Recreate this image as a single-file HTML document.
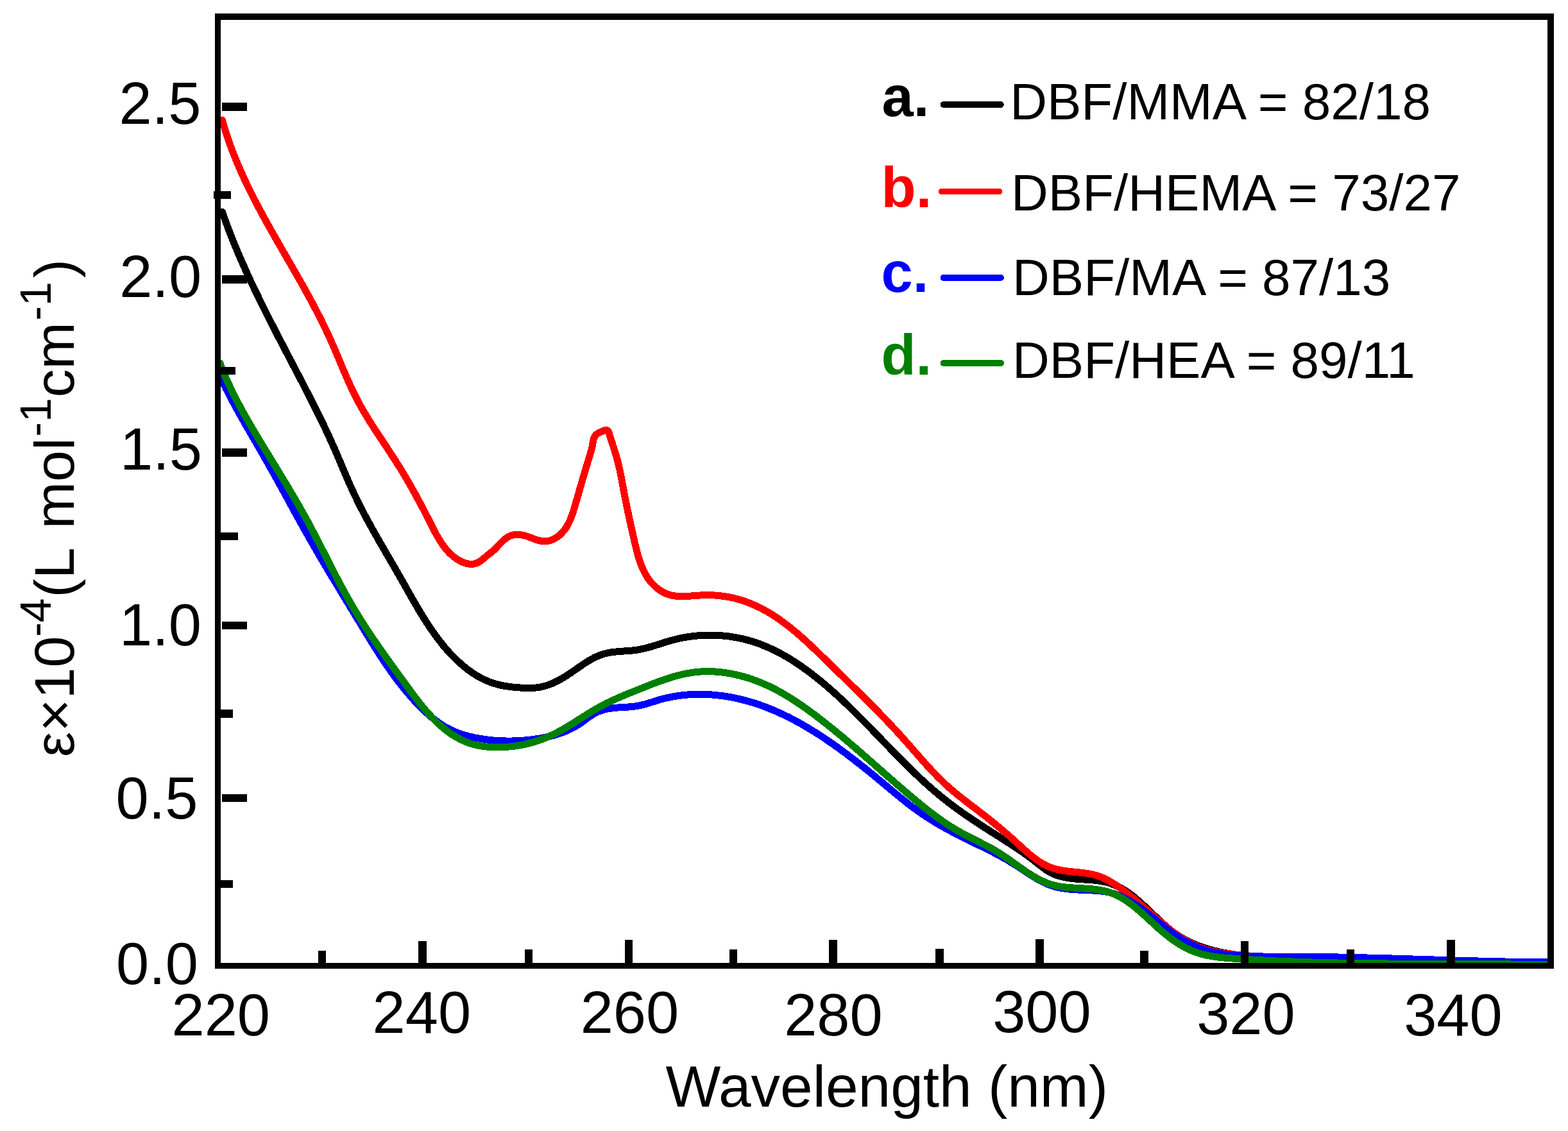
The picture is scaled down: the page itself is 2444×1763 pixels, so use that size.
<!DOCTYPE html><html><head><meta charset="utf-8"><title>UV spectra</title><style>html,body{margin:0;padding:0;background:#fff;overflow:hidden;}svg{display:block;}text{font-family:"Liberation Sans",Arial,sans-serif;}</style></head><body>
<svg width="2444" height="1763" viewBox="0 0 2444 1763">
<rect x="0" y="0" width="2444" height="1763" fill="#fff"/>
<path d="M346.3 330.1 L347.3 332.9 L348.3 335.7 L349.3 338.5 L350.3 341.4 L351.3 344.2 L352.4 347.0 L353.4 349.8 L354.4 352.6 L355.5 355.4 L356.5 358.2 L357.6 361.0 L358.7 363.8 L359.8 366.6 L360.9 369.4 L362.0 372.1 L363.1 374.9 L364.2 377.7 L365.3 380.5 L366.5 383.2 L367.6 386.0 L368.8 388.8 L369.9 391.5 L371.1 394.3 L372.3 397.0 L373.4 399.8 L374.6 402.5 L375.8 405.3 L377.0 408.0 L378.2 410.8 L379.5 413.5 L380.7 416.2 L381.9 419.0 L383.1 421.7 L384.4 424.4 L385.6 427.1 L386.9 429.9 L388.1 432.6 L389.4 435.3 L390.6 438.0 L391.9 440.7 L393.2 443.4 L394.5 446.1 L395.8 448.8 L397.1 451.5 L398.4 454.2 L399.7 456.9 L401.0 459.6 L402.3 462.3 L403.6 465.0 L404.9 467.7 L406.2 470.4 L407.6 473.1 L408.9 475.8 L410.2 478.5 L411.6 481.2 L412.9 483.9 L414.2 486.5 L415.6 489.2 L416.9 491.9 L418.3 494.6 L419.6 497.2 L421.0 499.9 L422.4 502.6 L423.7 505.3 L425.1 507.9 L426.5 510.6 L427.8 513.3 L429.2 515.9 L430.6 518.6 L432.0 521.3 L433.3 523.9 L434.7 526.6 L436.1 529.3 L437.5 531.9 L438.9 534.6 L440.3 537.3 L441.6 539.9 L443.0 542.6 L444.4 545.2 L445.8 547.9 L447.2 550.6 L448.6 553.2 L450.0 555.9 L451.4 558.5 L452.7 561.2 L454.1 563.8 L455.5 566.5 L456.9 569.2 L458.3 571.8 L459.7 574.5 L461.1 577.1 L462.5 579.8 L463.8 582.4 L465.2 585.1 L466.6 587.7 L468.0 590.4 L469.4 593.1 L470.8 595.7 L472.1 598.4 L473.5 601.0 L474.9 603.7 L476.2 606.4 L477.6 609.0 L479.0 611.7 L480.4 614.3 L481.7 617.0 L483.1 619.7 L484.4 622.3 L485.8 625.0 L487.1 627.7 L488.5 630.3 L489.8 633.0 L491.2 635.7 L492.5 638.3 L493.8 641.0 L495.2 643.7 L496.5 646.3 L497.8 649.0 L499.1 651.7 L500.4 654.4 L501.8 657.1 L503.1 659.8 L504.4 662.5 L505.6 665.2 L506.9 667.9 L508.2 670.6 L509.5 673.3 L510.8 676.0 L512.0 678.7 L513.3 681.4 L514.5 684.2 L515.8 686.9 L517.0 689.6 L518.2 692.4 L519.4 695.1 L520.7 697.9 L521.9 700.6 L523.1 703.4 L524.3 706.1 L525.4 708.9 L526.6 711.7 L527.8 714.5 L529.0 717.3 L530.2 720.0 L531.3 722.8 L532.5 725.6 L533.7 728.4 L534.9 731.2 L536.0 733.9 L537.2 736.7 L538.4 739.5 L539.6 742.3 L540.8 745.0 L542.0 747.8 L543.2 750.6 L544.4 753.3 L545.6 756.1 L546.9 758.8 L548.1 761.5 L549.4 764.3 L550.6 767.0 L551.9 769.7 L553.2 772.4 L554.5 775.1 L555.8 777.8 L557.1 780.5 L558.4 783.1 L559.7 785.8 L561.1 788.5 L562.4 791.1 L563.8 793.8 L565.2 796.4 L566.6 799.0 L567.9 801.7 L569.3 804.3 L570.7 806.9 L572.1 809.5 L573.6 812.2 L575.0 814.8 L576.4 817.4 L577.9 820.0 L579.3 822.6 L580.7 825.2 L582.2 827.8 L583.7 830.4 L585.1 832.9 L586.6 835.5 L588.1 838.1 L589.5 840.7 L591.0 843.3 L592.5 845.9 L594.0 848.4 L595.5 851.0 L597.0 853.6 L598.5 856.2 L600.0 858.8 L601.4 861.3 L602.9 863.9 L604.5 866.5 L606.0 869.1 L607.5 871.7 L609.0 874.3 L610.5 876.9 L612.0 879.4 L613.5 882.0 L615.0 884.6 L616.5 887.2 L618.0 889.8 L619.5 892.4 L621.0 895.1 L622.5 897.7 L624.0 900.3 L625.5 902.9 L627.0 905.5 L628.5 908.2 L630.0 910.8 L631.4 913.4 L632.9 916.1 L634.4 918.7 L635.9 921.4 L637.4 924.0 L638.9 926.6 L640.4 929.3 L641.9 931.9 L643.4 934.5 L644.9 937.2 L646.5 939.8 L648.0 942.4 L649.5 945.0 L651.1 947.7 L652.6 950.3 L654.2 952.9 L655.7 955.5 L657.3 958.0 L658.9 960.6 L660.5 963.2 L662.1 965.7 L663.7 968.3 L665.3 970.8 L667.0 973.3 L668.6 975.8 L670.3 978.3 L672.0 980.8 L673.7 983.3 L675.4 985.7 L677.1 988.2 L678.8 990.6 L680.6 993.0 L682.4 995.4 L684.2 997.8 L686.0 1000.1 L687.9 1002.4 L689.7 1004.8 L691.6 1007.1 L693.5 1009.3 L695.4 1011.6 L697.4 1013.8 L699.3 1016.0 L701.3 1018.2 L703.4 1020.3 L705.4 1022.5 L707.5 1024.6 L709.6 1026.7 L711.7 1028.7 L713.8 1030.7 L716.0 1032.7 L718.2 1034.7 L720.5 1036.6 L722.7 1038.6 L725.0 1040.4 L727.3 1042.3 L729.7 1044.1 L732.1 1045.8 L734.5 1047.5 L736.9 1049.2 L739.4 1050.8 L741.9 1052.4 L744.5 1053.9 L747.0 1055.4 L749.6 1056.8 L752.3 1058.2 L754.9 1059.4 L757.7 1060.7 L760.4 1061.9 L763.2 1063.0 L766.0 1064.0 L768.8 1065.0 L771.7 1065.8 L774.6 1066.7 L777.6 1067.4 L780.5 1068.1 L783.5 1068.7 L786.5 1069.3 L789.6 1069.8 L792.6 1070.2 L795.7 1070.6 L798.8 1071.0 L801.9 1071.3 L804.9 1071.6 L808.0 1071.8 L811.1 1072.0 L814.2 1072.1 L817.2 1072.3 L820.3 1072.4 L823.3 1072.4 L826.3 1072.4 L829.3 1072.4 L832.3 1072.2 L835.2 1072.0 L838.1 1071.7 L841.0 1071.2 L843.9 1070.7 L846.7 1070.0 L849.5 1069.3 L852.3 1068.4 L855.0 1067.5 L857.8 1066.5 L860.5 1065.4 L863.1 1064.2 L865.8 1063.0 L868.5 1061.6 L871.1 1060.3 L873.7 1058.8 L876.3 1057.3 L878.9 1055.8 L881.4 1054.2 L884.0 1052.6 L886.5 1050.9 L889.0 1049.3 L891.6 1047.5 L894.1 1045.8 L896.6 1044.1 L899.1 1042.3 L901.6 1040.6 L904.1 1038.9 L906.6 1037.1 L909.1 1035.5 L911.6 1033.8 L914.2 1032.2 L916.7 1030.6 L919.3 1029.1 L921.9 1027.6 L924.5 1026.2 L927.1 1024.8 L929.8 1023.6 L932.5 1022.4 L935.2 1021.3 L938.0 1020.3 L940.7 1019.4 L943.6 1018.7 L946.4 1018.0 L949.3 1017.4 L952.3 1016.9 L955.2 1016.5 L958.2 1016.2 L961.2 1015.9 L964.2 1015.6 L967.2 1015.3 L970.3 1015.1 L973.3 1014.9 L976.4 1014.7 L979.4 1014.5 L982.4 1014.2 L985.5 1014.0 L988.5 1013.6 L991.5 1013.3 L994.5 1012.8 L997.4 1012.3 L1000.4 1011.7 L1003.3 1011.1 L1006.2 1010.4 L1009.1 1009.6 L1012.0 1008.8 L1014.9 1008.0 L1017.7 1007.2 L1020.6 1006.3 L1023.4 1005.4 L1026.3 1004.5 L1029.1 1003.5 L1032.0 1002.6 L1034.8 1001.7 L1037.7 1000.8 L1040.6 1000.0 L1043.4 999.1 L1046.3 998.3 L1049.2 997.5 L1052.1 996.8 L1055.0 996.1 L1058.0 995.4 L1060.9 994.8 L1063.8 994.2 L1066.8 993.7 L1069.7 993.1 L1072.7 992.7 L1075.7 992.2 L1078.7 991.9 L1081.7 991.5 L1084.6 991.2 L1087.6 990.9 L1090.6 990.7 L1093.6 990.5 L1096.6 990.4 L1099.6 990.2 L1102.6 990.2 L1105.6 990.1 L1108.7 990.1 L1111.7 990.2 L1114.7 990.3 L1117.7 990.4 L1120.7 990.5 L1123.7 990.7 L1126.7 991.0 L1129.6 991.3 L1132.6 991.6 L1135.6 991.9 L1138.6 992.3 L1141.5 992.8 L1144.5 993.3 L1147.4 993.8 L1150.4 994.3 L1153.3 994.9 L1156.2 995.6 L1159.1 996.2 L1162.0 997.0 L1164.9 997.7 L1167.8 998.5 L1170.7 999.3 L1173.5 1000.2 L1176.4 1001.1 L1179.2 1002.1 L1182.0 1003.1 L1184.8 1004.1 L1187.6 1005.2 L1190.3 1006.3 L1193.1 1007.4 L1195.8 1008.6 L1198.6 1009.8 L1201.3 1011.0 L1204.0 1012.3 L1206.7 1013.6 L1209.4 1014.9 L1212.0 1016.3 L1214.7 1017.6 L1217.3 1019.1 L1219.9 1020.5 L1222.6 1022.0 L1225.2 1023.5 L1227.7 1025.0 L1230.3 1026.5 L1232.9 1028.1 L1235.4 1029.7 L1238.0 1031.3 L1240.5 1033.0 L1243.0 1034.6 L1245.5 1036.3 L1248.0 1038.0 L1250.5 1039.8 L1252.9 1041.5 L1255.4 1043.3 L1257.8 1045.0 L1260.2 1046.8 L1262.7 1048.6 L1265.1 1050.5 L1267.4 1052.3 L1269.8 1054.2 L1272.2 1056.0 L1274.5 1057.9 L1276.9 1059.8 L1279.2 1061.7 L1281.5 1063.6 L1283.8 1065.5 L1286.1 1067.5 L1288.4 1069.4 L1290.7 1071.4 L1292.9 1073.3 L1295.2 1075.3 L1297.4 1077.3 L1299.7 1079.3 L1301.9 1081.3 L1304.1 1083.3 L1306.3 1085.3 L1308.5 1087.3 L1310.7 1089.4 L1312.9 1091.4 L1315.1 1093.4 L1317.2 1095.5 L1319.4 1097.6 L1321.5 1099.6 L1323.7 1101.7 L1325.8 1103.8 L1328.0 1105.9 L1330.1 1108.0 L1332.2 1110.1 L1334.3 1112.2 L1336.5 1114.3 L1338.6 1116.4 L1340.7 1118.5 L1342.8 1120.6 L1344.9 1122.7 L1347.0 1124.9 L1349.1 1127.0 L1351.1 1129.1 L1353.2 1131.3 L1355.3 1133.4 L1357.4 1135.6 L1359.5 1137.7 L1361.6 1139.9 L1363.6 1142.0 L1365.7 1144.2 L1367.8 1146.3 L1369.9 1148.5 L1372.0 1150.6 L1374.0 1152.8 L1376.1 1154.9 L1378.2 1157.1 L1380.3 1159.3 L1382.4 1161.4 L1384.5 1163.6 L1386.5 1165.7 L1388.6 1167.9 L1390.7 1170.0 L1392.8 1172.2 L1394.9 1174.3 L1397.0 1176.5 L1399.1 1178.6 L1401.2 1180.8 L1403.3 1182.9 L1405.5 1185.1 L1407.6 1187.2 L1409.7 1189.3 L1411.8 1191.5 L1414.0 1193.6 L1416.1 1195.7 L1418.3 1197.8 L1420.4 1199.9 L1422.6 1202.0 L1424.8 1204.1 L1426.9 1206.2 L1429.1 1208.3 L1431.3 1210.4 L1433.5 1212.4 L1435.7 1214.5 L1437.9 1216.5 L1440.1 1218.6 L1442.3 1220.6 L1444.5 1222.6 L1446.8 1224.6 L1449.0 1226.6 L1451.3 1228.6 L1453.5 1230.6 L1455.8 1232.5 L1458.1 1234.5 L1460.4 1236.4 L1462.7 1238.3 L1465.0 1240.2 L1467.3 1242.1 L1469.6 1244.0 L1471.9 1245.9 L1474.3 1247.7 L1476.6 1249.5 L1479.0 1251.4 L1481.4 1253.2 L1483.7 1255.0 L1486.1 1256.7 L1488.5 1258.5 L1490.9 1260.3 L1493.3 1262.0 L1495.8 1263.8 L1498.2 1265.5 L1500.6 1267.2 L1503.1 1268.9 L1505.5 1270.6 L1508.0 1272.3 L1510.4 1274.0 L1512.9 1275.6 L1515.4 1277.3 L1517.8 1279.0 L1520.3 1280.6 L1522.8 1282.3 L1525.3 1283.9 L1527.8 1285.5 L1530.3 1287.2 L1532.8 1288.8 L1535.3 1290.4 L1537.9 1292.0 L1540.4 1293.7 L1542.9 1295.3 L1545.4 1296.9 L1547.9 1298.5 L1550.5 1300.1 L1553.0 1301.7 L1555.6 1303.3 L1558.1 1304.9 L1560.6 1306.6 L1563.2 1308.2 L1565.7 1309.8 L1568.3 1311.4 L1570.8 1313.1 L1573.3 1314.7 L1575.9 1316.3 L1578.4 1318.0 L1580.9 1319.6 L1583.4 1321.3 L1585.9 1323.0 L1588.4 1324.7 L1590.9 1326.4 L1593.4 1328.1 L1595.8 1329.8 L1598.3 1331.6 L1600.7 1333.3 L1603.2 1335.1 L1605.6 1336.9 L1608.0 1338.7 L1610.4 1340.5 L1612.7 1342.4 L1615.1 1344.3 L1617.4 1346.1 L1619.8 1348.0 L1622.1 1349.8 L1624.5 1351.6 L1626.9 1353.4 L1629.2 1355.1 L1631.7 1356.7 L1634.1 1358.2 L1636.6 1359.7 L1639.2 1361.1 L1641.8 1362.3 L1644.4 1363.4 L1647.1 1364.4 L1649.9 1365.3 L1652.7 1366.1 L1655.5 1366.8 L1658.4 1367.5 L1661.3 1368.0 L1664.2 1368.5 L1667.2 1369.0 L1670.2 1369.3 L1673.2 1369.7 L1676.2 1370.0 L1679.3 1370.2 L1682.3 1370.4 L1685.4 1370.7 L1688.4 1370.9 L1691.5 1371.1 L1694.6 1371.3 L1697.6 1371.5 L1700.7 1371.8 L1703.8 1372.0 L1706.8 1372.3 L1709.8 1372.7 L1712.8 1373.1 L1715.8 1373.5 L1718.7 1374.0 L1721.6 1374.6 L1724.5 1375.3 L1727.3 1376.0 L1730.1 1376.8 L1732.9 1377.8 L1735.6 1378.8 L1738.3 1379.9 L1740.9 1381.1 L1743.5 1382.4 L1746.1 1383.7 L1748.6 1385.1 L1751.2 1386.6 L1753.6 1388.1 L1756.1 1389.7 L1758.5 1391.4 L1761.0 1393.1 L1763.3 1394.9 L1765.7 1396.7 L1768.1 1398.6 L1770.4 1400.5 L1772.7 1402.5 L1775.0 1404.4 L1777.3 1406.5 L1779.6 1408.5 L1781.8 1410.6 L1784.1 1412.6 L1786.3 1414.8 L1788.6 1416.9 L1790.8 1419.0 L1793.0 1421.1 L1795.3 1423.3 L1797.5 1425.4 L1799.8 1427.6 L1802.0 1429.7 L1804.2 1431.8 L1806.5 1433.9 L1808.8 1436.0 L1811.0 1438.1 L1813.3 1440.2 L1815.6 1442.2 L1817.9 1444.2 L1820.3 1446.2 L1822.6 1448.1 L1825.0 1450.0 L1827.3 1451.8 L1829.7 1453.6 L1832.2 1455.4 L1834.6 1457.1 L1837.1 1458.7 L1839.6 1460.3 L1842.1 1461.9 L1844.7 1463.3 L1847.3 1464.8 L1849.9 1466.1 L1852.5 1467.5 L1855.1 1468.8 L1857.8 1470.0 L1860.5 1471.2 L1863.2 1472.3 L1865.9 1473.5 L1868.6 1474.5 L1871.4 1475.5 L1874.2 1476.5 L1877.0 1477.4 L1879.8 1478.3 L1882.6 1479.2 L1885.4 1480.0 L1888.3 1480.8 L1891.1 1481.6 L1894.0 1482.3 L1896.9 1483.0 L1899.8 1483.6 L1902.7 1484.2 L1905.6 1484.8 L1908.6 1485.4 L1911.5 1485.9 L1914.5 1486.4 L1917.4 1486.9 L1920.4 1487.4 L1923.4 1487.8 L1926.4 1488.2 L1929.4 1488.6 L1932.3 1489.0 L1935.3 1489.3 L1938.3 1489.6 L1941.4 1489.9 L1944.4 1490.2 L1947.4 1490.5 L1950.4 1490.7 L1953.4 1491.0 L1956.4 1491.2 L1959.4 1491.4 L1962.4 1491.6 L1965.4 1491.8 L1968.5 1492.0 L1971.5 1492.2 L1974.5 1492.4 L1977.5 1492.5 L1980.5 1492.6 L1983.5 1492.8 L1986.5 1492.9 L1989.5 1493.0 L1992.5 1493.1 L1995.5 1493.2 L1998.5 1493.3 L2001.5 1493.4 L2004.5 1493.5 L2007.5 1493.6 L2010.5 1493.6 L2013.5 1493.7 L2016.5 1493.7 L2019.5 1493.8 L2022.5 1493.8 L2025.5 1493.8 L2028.5 1493.9 L2031.5 1493.9 L2034.5 1493.9 L2037.5 1493.9 L2040.5 1493.9 L2043.5 1493.9 L2046.5 1493.9 L2049.5 1493.9 L2052.5 1493.9 L2055.5 1493.9 L2058.5 1493.9 L2061.5 1493.9 L2064.5 1493.9 L2067.4 1493.9 L2070.4 1493.9 L2073.4 1493.8 L2076.4 1493.8 L2079.4 1493.8 L2082.4 1493.8 L2085.4 1493.8 L2088.4 1493.8 L2091.4 1493.7 L2094.4 1493.7 L2097.4 1493.7 L2100.4 1493.7 L2103.3 1493.7 L2106.3 1493.7 L2109.3 1493.7 L2112.3 1493.7 L2115.3 1493.7 L2118.3 1493.7 L2121.3 1493.7 L2124.3 1493.7 L2127.3 1493.7 L2130.3 1493.7 L2133.3 1493.7 L2136.3 1493.7 L2139.2 1493.8 L2142.2 1493.8 L2145.2 1493.9 L2148.2 1493.9 L2151.2 1494.0 L2154.2 1494.0 L2157.2 1494.1 L2160.2 1494.2 L2163.2 1494.2 L2166.2 1494.3 L2169.2 1494.4 L2172.2 1494.5 L2175.2 1494.6 L2178.2 1494.7 L2181.2 1494.8 L2184.2 1494.9 L2187.2 1495.0 L2190.2 1495.1 L2193.2 1495.3 L2196.2 1495.4 L2199.2 1495.5 L2202.2 1495.7 L2205.2 1495.8 L2208.2 1495.9 L2211.2 1496.1 L2214.2 1496.2 L2217.1 1496.4 L2220.1 1496.5 L2223.1 1496.7 L2226.1 1496.8 L2229.1 1497.0 L2232.1 1497.1 L2235.1 1497.3 L2238.1 1497.4 L2241.1 1497.6 L2244.1 1497.7 L2247.1 1497.9 L2250.1 1498.0 L2253.1 1498.2 L2256.1 1498.3 L2259.1 1498.5 L2262.1 1498.6 L2265.1 1498.8 L2268.1 1498.9 L2271.1 1499.1 L2274.1 1499.2 L2277.1 1499.4 L2280.1 1499.5 L2283.1 1499.7 L2286.1 1499.8 L2289.1 1499.9 L2292.1 1500.1 L2295.1 1500.2 L2298.1 1500.3 L2301.1 1500.4 L2304.1 1500.6 L2307.1 1500.7 L2310.1 1500.8 L2313.1 1500.9 L2316.1 1501.0 L2319.1 1501.1 L2322.1 1501.2 L2325.1 1501.3 L2328.1 1501.3 L2331.1 1501.4 L2334.1 1501.5 L2337.1 1501.5 L2340.1 1501.6 L2343.1 1501.7 L2346.1 1501.7 L2349.1 1501.7 L2352.1 1501.8 L2355.1 1501.8 L2358.1 1501.8 L2361.1 1501.8 L2364.1 1501.8 L2367.1 1501.8 L2370.1 1501.8 L2373.1 1501.8 L2376.1 1501.8 L2379.1 1501.7 L2382.1 1501.7 L2385.1 1501.6 L2388.1 1501.5 L2391.1 1501.5 L2394.0 1501.4 L2397.0 1501.3 L2400.0 1501.2 L2403.0 1501.1 L2406.0 1500.9 L2409.0 1500.8 L2412.0 1500.7 L2415.0 1500.5" fill="none" stroke="#000" stroke-width="11.0" stroke-linejoin="round" stroke-linecap="round" shape-rendering="crispEdges"/>
<path d="M346.4 187.0 L347.2 189.9 L348.0 192.8 L348.8 195.7 L349.7 198.6 L350.6 201.5 L351.5 204.4 L352.4 207.3 L353.3 210.1 L354.2 213.0 L355.2 215.8 L356.2 218.6 L357.2 221.5 L358.2 224.3 L359.2 227.1 L360.2 229.9 L361.2 232.7 L362.3 235.5 L363.4 238.3 L364.5 241.1 L365.6 243.9 L366.7 246.6 L367.8 249.4 L369.0 252.2 L370.1 254.9 L371.3 257.7 L372.5 260.4 L373.7 263.2 L374.9 265.9 L376.1 268.6 L377.3 271.3 L378.5 274.1 L379.8 276.8 L381.0 279.5 L382.3 282.2 L383.6 284.9 L384.9 287.6 L386.2 290.3 L387.5 293.0 L388.8 295.6 L390.1 298.3 L391.5 301.0 L392.8 303.7 L394.2 306.3 L395.5 309.0 L396.9 311.7 L398.3 314.3 L399.6 317.0 L401.0 319.6 L402.4 322.3 L403.8 324.9 L405.3 327.5 L406.7 330.2 L408.1 332.8 L409.5 335.4 L411.0 338.1 L412.4 340.7 L413.8 343.3 L415.3 346.0 L416.7 348.6 L418.2 351.2 L419.7 353.8 L421.1 356.4 L422.6 359.0 L424.1 361.7 L425.6 364.3 L427.1 366.9 L428.5 369.5 L430.0 372.1 L431.5 374.7 L433.0 377.3 L434.5 379.9 L436.0 382.5 L437.5 385.1 L439.0 387.7 L440.5 390.3 L442.0 392.9 L443.5 395.5 L445.0 398.1 L446.5 400.7 L448.0 403.3 L449.5 405.9 L451.0 408.5 L452.5 411.1 L454.0 413.7 L455.5 416.4 L457.0 419.0 L458.5 421.6 L460.0 424.2 L461.5 426.8 L463.0 429.4 L464.5 432.0 L465.9 434.6 L467.4 437.2 L468.9 439.8 L470.4 442.5 L471.9 445.1 L473.3 447.7 L474.8 450.3 L476.2 452.9 L477.7 455.6 L479.1 458.2 L480.6 460.8 L482.0 463.5 L483.5 466.1 L484.9 468.7 L486.3 471.4 L487.7 474.0 L489.1 476.7 L490.5 479.3 L491.9 482.0 L493.3 484.6 L494.7 487.3 L496.1 490.0 L497.4 492.6 L498.8 495.3 L500.1 498.0 L501.5 500.7 L502.8 503.4 L504.1 506.1 L505.4 508.7 L506.8 511.4 L508.0 514.1 L509.3 516.9 L510.6 519.6 L511.9 522.3 L513.1 525.0 L514.4 527.7 L515.6 530.5 L516.8 533.2 L518.0 535.9 L519.2 538.7 L520.4 541.4 L521.6 544.2 L522.8 547.0 L524.0 549.7 L525.1 552.5 L526.3 555.2 L527.5 558.0 L528.6 560.8 L529.8 563.5 L530.9 566.3 L532.1 569.1 L533.3 571.8 L534.4 574.6 L535.6 577.4 L536.8 580.1 L538.0 582.9 L539.1 585.6 L540.3 588.4 L541.5 591.1 L542.8 593.9 L544.0 596.6 L545.2 599.3 L546.5 602.0 L547.7 604.8 L549.0 607.5 L550.3 610.2 L551.6 612.9 L552.9 615.5 L554.3 618.2 L555.6 620.9 L557.0 623.5 L558.4 626.2 L559.8 628.8 L561.3 631.5 L562.8 634.1 L564.2 636.7 L565.7 639.3 L567.2 641.9 L568.8 644.5 L570.3 647.1 L571.9 649.6 L573.5 652.2 L575.0 654.8 L576.6 657.3 L578.2 659.9 L579.8 662.4 L581.5 664.9 L583.1 667.5 L584.7 670.0 L586.4 672.5 L588.0 675.0 L589.7 677.6 L591.3 680.1 L593.0 682.6 L594.7 685.1 L596.3 687.6 L598.0 690.1 L599.7 692.6 L601.3 695.1 L603.0 697.6 L604.6 700.1 L606.3 702.7 L608.0 705.2 L609.6 707.7 L611.2 710.2 L612.9 712.7 L614.5 715.2 L616.1 717.7 L617.7 720.2 L619.3 722.8 L620.9 725.3 L622.5 727.8 L624.0 730.3 L625.6 732.9 L627.1 735.4 L628.6 738.0 L630.2 740.5 L631.7 743.1 L633.2 745.6 L634.7 748.2 L636.2 750.8 L637.7 753.3 L639.2 755.9 L640.6 758.5 L642.1 761.1 L643.5 763.7 L645.0 766.3 L646.4 768.9 L647.9 771.5 L649.3 774.1 L650.7 776.7 L652.1 779.3 L653.6 782.0 L655.0 784.6 L656.4 787.3 L657.8 789.9 L659.2 792.6 L660.6 795.2 L662.0 797.9 L663.4 800.6 L664.7 803.3 L666.1 806.0 L667.5 808.7 L668.9 811.4 L670.3 814.1 L671.6 816.9 L673.0 819.6 L674.4 822.3 L675.8 825.0 L677.2 827.7 L678.6 830.4 L680.1 833.1 L681.6 835.8 L683.1 838.4 L684.7 841.0 L686.2 843.6 L687.9 846.1 L689.6 848.5 L691.3 851.0 L693.1 853.3 L694.9 855.6 L696.9 857.9 L698.9 860.1 L700.9 862.2 L703.0 864.2 L705.3 866.2 L707.5 868.1 L709.9 869.9 L712.4 871.5 L715.0 873.1 L717.6 874.6 L720.4 876.0 L723.2 877.1 L726.1 878.1 L729.0 878.8 L731.9 879.2 L734.8 879.4 L737.7 879.1 L740.6 878.6 L743.5 877.6 L746.3 876.1 L749.1 874.3 L751.8 872.3 L754.4 870.1 L756.9 868.0 L759.3 866.0 L761.6 864.2 L763.8 862.5 L765.9 860.8 L768.0 859.0 L770.1 857.2 L772.2 855.1 L774.4 852.9 L776.5 850.6 L778.7 848.3 L781.0 846.0 L783.3 843.7 L785.6 841.6 L788.0 839.6 L790.5 837.8 L793.1 836.3 L795.7 835.1 L798.4 834.3 L801.2 833.7 L804.1 833.3 L806.9 833.3 L809.9 833.4 L812.8 833.8 L815.7 834.4 L818.7 835.1 L821.6 836.0 L824.5 837.0 L827.4 838.1 L830.3 839.2 L833.2 840.3 L836.1 841.3 L839.0 842.3 L841.8 843.0 L844.7 843.6 L847.6 843.9 L850.5 843.9 L853.3 843.5 L856.2 842.9 L859.0 842.0 L861.7 840.9 L864.4 839.5 L867.0 837.9 L869.6 836.2 L872.0 834.3 L874.2 832.2 L876.3 830.1 L878.3 827.8 L880.2 825.5 L881.9 823.1 L883.5 820.6 L885.0 818.0 L886.4 815.3 L887.7 812.7 L888.9 809.9 L890.0 807.1 L891.1 804.3 L892.1 801.4 L893.1 798.5 L894.0 795.6 L894.9 792.7 L895.8 789.8 L896.6 786.9 L897.5 784.0 L898.3 781.1 L899.2 778.2 L900.0 775.3 L900.8 772.4 L901.7 769.6 L902.5 766.7 L903.3 763.8 L904.1 761.0 L905.0 758.1 L905.8 755.3 L906.6 752.4 L907.4 749.6 L908.3 746.7 L909.1 743.9 L909.9 741.0 L910.8 738.2 L911.6 735.3 L912.5 732.4 L913.3 729.6 L914.2 726.7 L915.1 723.8 L915.9 720.9 L916.8 718.0 L917.7 715.1 L918.6 712.2 L919.5 709.2 L920.4 706.3 L921.3 703.3 L922.1 700.3 L922.8 697.3 L923.4 694.3 L923.9 691.2 L924.4 688.2 L925.0 685.2 L925.9 682.5 L927.1 680.0 L928.7 677.8 L930.9 676.1 L933.6 674.6 L936.6 673.3 L939.7 671.9 L942.8 670.8 L945.4 670.4 L947.4 671.4 L948.8 673.7 L949.8 676.7 L950.7 679.8 L951.7 682.9 L952.6 685.9 L953.6 688.8 L954.5 691.7 L955.4 694.6 L956.4 697.5 L957.3 700.3 L958.2 703.1 L959.1 706.0 L959.9 708.8 L960.8 711.6 L961.6 714.4 L962.3 717.3 L963.1 720.2 L963.8 723.1 L964.5 726.0 L965.1 728.9 L965.8 731.8 L966.4 734.8 L967.0 737.7 L967.6 740.7 L968.2 743.7 L968.8 746.6 L969.3 749.6 L969.9 752.6 L970.4 755.5 L971.0 758.5 L971.5 761.5 L972.1 764.4 L972.6 767.4 L973.2 770.3 L973.7 773.3 L974.3 776.2 L974.9 779.1 L975.5 782.0 L976.1 785.0 L976.6 787.9 L977.2 790.8 L977.8 793.7 L978.5 796.6 L979.1 799.5 L979.7 802.4 L980.3 805.2 L980.9 808.1 L981.6 811.0 L982.2 813.9 L982.9 816.8 L983.5 819.8 L984.2 822.7 L984.8 825.6 L985.5 828.5 L986.1 831.4 L986.8 834.4 L987.5 837.3 L988.1 840.3 L988.8 843.2 L989.5 846.2 L990.2 849.2 L990.9 852.2 L991.6 855.2 L992.4 858.1 L993.1 861.1 L993.9 864.1 L994.8 867.0 L995.7 869.9 L996.6 872.8 L997.5 875.7 L998.6 878.5 L999.6 881.4 L1000.8 884.1 L1002.0 886.9 L1003.2 889.6 L1004.6 892.2 L1006.0 894.9 L1007.5 897.4 L1009.0 899.9 L1010.7 902.4 L1012.4 904.7 L1014.3 907.1 L1016.2 909.3 L1018.3 911.5 L1020.4 913.6 L1022.7 915.6 L1025.0 917.5 L1027.5 919.3 L1030.0 921.0 L1032.5 922.5 L1035.2 923.9 L1037.9 925.2 L1040.6 926.3 L1043.3 927.2 L1046.1 927.9 L1049.0 928.5 L1051.8 928.9 L1054.7 929.3 L1057.6 929.5 L1060.6 929.6 L1063.6 929.6 L1066.5 929.6 L1069.5 929.4 L1072.6 929.3 L1075.6 929.1 L1078.7 928.9 L1081.7 928.6 L1084.8 928.4 L1087.9 928.2 L1090.9 928.0 L1094.0 927.8 L1097.1 927.7 L1100.2 927.6 L1103.3 927.6 L1106.4 927.7 L1109.4 927.8 L1112.5 927.9 L1115.6 928.1 L1118.6 928.4 L1121.7 928.7 L1124.7 929.0 L1127.7 929.4 L1130.7 929.9 L1133.7 930.4 L1136.7 930.9 L1139.7 931.5 L1142.6 932.1 L1145.6 932.8 L1148.5 933.6 L1151.4 934.4 L1154.2 935.2 L1157.1 936.1 L1159.9 937.0 L1162.7 938.0 L1165.5 939.0 L1168.2 940.1 L1171.0 941.2 L1173.7 942.3 L1176.4 943.5 L1179.1 944.7 L1181.7 946.0 L1184.4 947.3 L1187.0 948.6 L1189.6 950.0 L1192.2 951.4 L1194.7 952.8 L1197.3 954.3 L1199.8 955.8 L1202.3 957.3 L1204.8 958.9 L1207.3 960.5 L1209.8 962.1 L1212.2 963.8 L1214.7 965.5 L1217.1 967.2 L1219.5 968.9 L1221.9 970.7 L1224.3 972.5 L1226.7 974.3 L1229.0 976.1 L1231.4 978.0 L1233.7 979.9 L1236.0 981.8 L1238.4 983.7 L1240.7 985.6 L1243.0 987.6 L1245.2 989.5 L1247.5 991.5 L1249.8 993.5 L1252.0 995.5 L1254.3 997.6 L1256.5 999.6 L1258.8 1001.7 L1261.0 1003.7 L1263.2 1005.8 L1265.4 1007.9 L1267.6 1010.0 L1269.8 1012.0 L1272.0 1014.1 L1274.2 1016.3 L1276.4 1018.4 L1278.6 1020.5 L1280.7 1022.6 L1282.9 1024.7 L1285.1 1026.8 L1287.3 1029.0 L1289.4 1031.1 L1291.6 1033.2 L1293.7 1035.3 L1295.9 1037.4 L1298.1 1039.5 L1300.2 1041.7 L1302.4 1043.8 L1304.5 1045.9 L1306.7 1048.0 L1308.8 1050.1 L1311.0 1052.2 L1313.1 1054.3 L1315.3 1056.3 L1317.4 1058.4 L1319.6 1060.5 L1321.7 1062.6 L1323.8 1064.7 L1326.0 1066.8 L1328.1 1068.9 L1330.2 1071.0 L1332.4 1073.1 L1334.5 1075.2 L1336.6 1077.2 L1338.8 1079.3 L1340.9 1081.4 L1343.0 1083.5 L1345.1 1085.6 L1347.2 1087.7 L1349.3 1089.8 L1351.4 1091.9 L1353.5 1094.0 L1355.6 1096.1 L1357.7 1098.2 L1359.8 1100.3 L1361.9 1102.5 L1364.0 1104.6 L1366.1 1106.7 L1368.2 1108.8 L1370.2 1110.9 L1372.3 1113.1 L1374.4 1115.2 L1376.4 1117.4 L1378.5 1119.5 L1380.6 1121.6 L1382.6 1123.8 L1384.7 1126.0 L1386.7 1128.1 L1388.8 1130.3 L1390.8 1132.5 L1392.8 1134.7 L1394.9 1136.9 L1396.9 1139.0 L1398.9 1141.3 L1400.9 1143.5 L1402.9 1145.7 L1404.9 1147.9 L1406.9 1150.1 L1408.9 1152.4 L1410.9 1154.6 L1412.9 1156.9 L1414.9 1159.1 L1416.9 1161.4 L1418.9 1163.7 L1420.9 1165.9 L1422.8 1168.2 L1424.8 1170.5 L1426.8 1172.7 L1428.8 1175.0 L1430.8 1177.3 L1432.8 1179.6 L1434.8 1181.8 L1436.8 1184.1 L1438.8 1186.3 L1440.8 1188.6 L1442.8 1190.8 L1444.8 1193.1 L1446.9 1195.3 L1448.9 1197.5 L1450.9 1199.7 L1453.0 1201.9 L1455.1 1204.1 L1457.1 1206.3 L1459.2 1208.4 L1461.3 1210.6 L1463.4 1212.7 L1465.6 1214.8 L1467.7 1216.9 L1469.9 1219.0 L1472.1 1221.0 L1474.2 1223.1 L1476.4 1225.1 L1478.7 1227.1 L1480.9 1229.1 L1483.2 1231.0 L1485.4 1233.0 L1487.7 1234.9 L1490.0 1236.8 L1492.3 1238.7 L1494.6 1240.6 L1497.0 1242.4 L1499.3 1244.3 L1501.7 1246.1 L1504.0 1248.0 L1506.4 1249.8 L1508.7 1251.6 L1511.1 1253.4 L1513.5 1255.2 L1515.8 1257.0 L1518.2 1258.8 L1520.6 1260.6 L1522.9 1262.4 L1525.3 1264.2 L1527.7 1266.1 L1530.0 1267.9 L1532.4 1269.7 L1534.7 1271.5 L1537.1 1273.3 L1539.4 1275.1 L1541.7 1277.0 L1544.0 1278.8 L1546.3 1280.7 L1548.6 1282.6 L1551.0 1284.4 L1553.2 1286.3 L1555.5 1288.2 L1557.8 1290.1 L1560.1 1292.0 L1562.4 1294.0 L1564.7 1295.9 L1566.9 1297.8 L1569.2 1299.8 L1571.5 1301.8 L1573.7 1303.8 L1576.0 1305.8 L1578.2 1307.8 L1580.5 1309.9 L1582.8 1311.9 L1585.0 1314.0 L1587.3 1316.1 L1589.5 1318.2 L1591.8 1320.3 L1594.0 1322.3 L1596.3 1324.4 L1598.6 1326.4 L1600.9 1328.4 L1603.2 1330.4 L1605.6 1332.4 L1607.9 1334.3 L1610.3 1336.2 L1612.7 1338.0 L1615.1 1339.8 L1617.5 1341.5 L1620.0 1343.1 L1622.5 1344.7 L1625.0 1346.2 L1627.6 1347.6 L1630.2 1349.0 L1632.9 1350.2 L1635.5 1351.4 L1638.3 1352.4 L1641.0 1353.4 L1643.8 1354.3 L1646.7 1355.0 L1649.6 1355.7 L1652.5 1356.3 L1655.4 1356.8 L1658.4 1357.3 L1661.4 1357.7 L1664.4 1358.1 L1667.4 1358.5 L1670.5 1358.8 L1673.5 1359.1 L1676.6 1359.4 L1679.6 1359.7 L1682.7 1360.0 L1685.7 1360.4 L1688.7 1360.7 L1691.8 1361.1 L1694.8 1361.6 L1697.8 1362.1 L1700.7 1362.7 L1703.7 1363.3 L1706.6 1364.0 L1709.5 1364.8 L1712.3 1365.7 L1715.1 1366.8 L1717.9 1367.9 L1720.6 1369.0 L1723.3 1370.3 L1726.0 1371.7 L1728.6 1373.1 L1731.2 1374.6 L1733.8 1376.1 L1736.3 1377.7 L1738.9 1379.3 L1741.4 1381.0 L1743.8 1382.7 L1746.3 1384.4 L1748.7 1386.2 L1751.1 1387.9 L1753.5 1389.7 L1755.8 1391.5 L1758.2 1393.4 L1760.5 1395.2 L1762.8 1397.0 L1765.1 1398.9 L1767.4 1400.8 L1769.7 1402.7 L1772.0 1404.6 L1774.2 1406.5 L1776.5 1408.5 L1778.7 1410.4 L1781.0 1412.4 L1783.2 1414.3 L1785.5 1416.3 L1787.7 1418.3 L1790.0 1420.3 L1792.2 1422.3 L1794.5 1424.3 L1796.7 1426.2 L1799.0 1428.2 L1801.3 1430.2 L1803.5 1432.2 L1805.8 1434.2 L1808.1 1436.2 L1810.5 1438.2 L1812.8 1440.2 L1815.1 1442.1 L1817.5 1444.1 L1819.8 1446.0 L1822.2 1447.9 L1824.6 1449.8 L1827.0 1451.6 L1829.4 1453.5 L1831.9 1455.3 L1834.3 1457.0 L1836.8 1458.8 L1839.3 1460.5 L1841.8 1462.1 L1844.3 1463.7 L1846.9 1465.3 L1849.5 1466.8 L1852.1 1468.3 L1854.7 1469.7 L1857.3 1471.1 L1860.0 1472.4 L1862.6 1473.6 L1865.4 1474.8 L1868.1 1475.9 L1870.9 1477.0 L1873.6 1478.0 L1876.4 1478.9 L1879.3 1479.8 L1882.1 1480.6 L1885.0 1481.4 L1887.9 1482.1 L1890.8 1482.8 L1893.7 1483.4 L1896.6 1484.0 L1899.6 1484.5 L1902.6 1485.0 L1905.5 1485.5 L1908.5 1485.9 L1911.5 1486.3 L1914.5 1486.7 L1917.5 1487.1 L1920.5 1487.4 L1923.4 1487.8 L1926.4 1488.1 L1929.4 1488.4 L1932.4 1488.7 L1935.4 1489.0 L1938.4 1489.3 L1941.4 1489.6 L1944.4 1489.8 L1947.4 1490.1 L1950.4 1490.3 L1953.4 1490.5 L1956.4 1490.7 L1959.4 1490.9 L1962.4 1491.1 L1965.4 1491.3 L1968.4 1491.5 L1971.4 1491.7 L1974.4 1491.8 L1977.4 1492.0 L1980.4 1492.1 L1983.4 1492.2 L1986.4 1492.4 L1989.4 1492.5 L1992.4 1492.6 L1995.4 1492.7 L1998.4 1492.8 L2001.4 1492.9 L2004.3 1493.0 L2007.3 1493.1 L2010.3 1493.1 L2013.3 1493.2 L2016.3 1493.3 L2019.3 1493.3 L2022.3 1493.4 L2025.3 1493.4 L2028.3 1493.5 L2031.3 1493.5 L2034.3 1493.5 L2037.3 1493.6 L2040.3 1493.6 L2043.3 1493.6 L2046.3 1493.6 L2049.3 1493.7 L2052.3 1493.7 L2055.3 1493.7 L2058.3 1493.7 L2061.3 1493.7 L2064.3 1493.7 L2067.3 1493.7 L2070.3 1493.7 L2073.3 1493.7 L2076.3 1493.7 L2079.3 1493.7 L2082.3 1493.7 L2085.3 1493.8 L2088.3 1493.8 L2091.3 1493.8 L2094.2 1493.8 L2097.2 1493.8 L2100.2 1493.8 L2103.2 1493.8 L2106.2 1493.8 L2109.2 1493.8 L2112.2 1493.8 L2115.2 1493.8 L2118.2 1493.8 L2121.2 1493.9 L2124.2 1493.9 L2127.2 1493.9 L2130.2 1493.9 L2133.2 1494.0 L2136.2 1494.0 L2139.2 1494.0 L2142.2 1494.1 L2145.2 1494.1 L2148.2 1494.2 L2151.2 1494.3 L2154.2 1494.3 L2157.2 1494.4 L2160.2 1494.5 L2163.2 1494.5 L2166.2 1494.6 L2169.2 1494.7 L2172.2 1494.8 L2175.2 1494.9 L2178.2 1495.0 L2181.2 1495.1 L2184.2 1495.2 L2187.2 1495.3 L2190.2 1495.4 L2193.2 1495.6 L2196.2 1495.7 L2199.2 1495.8 L2202.2 1495.9 L2205.2 1496.0 L2208.1 1496.2 L2211.1 1496.3 L2214.1 1496.4 L2217.1 1496.6 L2220.1 1496.7 L2223.1 1496.8 L2226.1 1497.0 L2229.1 1497.1 L2232.1 1497.2 L2235.1 1497.4 L2238.1 1497.5 L2241.1 1497.7 L2244.1 1497.8 L2247.1 1497.9 L2250.1 1498.1 L2253.1 1498.2 L2256.1 1498.4 L2259.1 1498.5 L2262.1 1498.6 L2265.1 1498.8 L2268.1 1498.9 L2271.1 1499.0 L2274.1 1499.2 L2277.1 1499.3 L2280.1 1499.4 L2283.1 1499.6 L2286.1 1499.7 L2289.1 1499.8 L2292.1 1499.9 L2295.1 1500.0 L2298.1 1500.2 L2301.1 1500.3 L2304.1 1500.4 L2307.1 1500.5 L2310.1 1500.6 L2313.1 1500.7 L2316.1 1500.8 L2319.1 1500.9 L2322.1 1500.9 L2325.1 1501.0 L2328.1 1501.1 L2331.1 1501.2 L2334.1 1501.2 L2337.1 1501.3 L2340.1 1501.3 L2343.1 1501.4 L2346.0 1501.4 L2349.0 1501.5 L2352.0 1501.5 L2355.0 1501.5 L2358.0 1501.6 L2361.0 1501.6 L2364.0 1501.6 L2367.0 1501.6 L2370.0 1501.6 L2373.0 1501.6 L2376.0 1501.5 L2379.0 1501.5 L2382.0 1501.5 L2385.0 1501.4 L2388.0 1501.4 L2391.0 1501.3 L2394.0 1501.2 L2397.0 1501.2 L2400.0 1501.1 L2403.0 1501.0 L2406.0 1500.9 L2409.0 1500.8 L2412.0 1500.7 L2415.0 1500.5" fill="none" stroke="#f00" stroke-width="11.0" stroke-linejoin="round" stroke-linecap="round" shape-rendering="crispEdges"/>
<path d="M343.1 587.0 L344.4 589.7 L345.7 592.4 L347.0 595.1 L348.3 597.8 L349.6 600.5 L351.0 603.1 L352.3 605.8 L353.7 608.5 L355.0 611.2 L356.4 613.8 L357.8 616.5 L359.2 619.1 L360.6 621.8 L362.0 624.4 L363.4 627.1 L364.8 629.7 L366.3 632.3 L367.7 635.0 L369.1 637.6 L370.6 640.2 L372.0 642.8 L373.5 645.4 L375.0 648.1 L376.4 650.7 L377.9 653.3 L379.4 655.9 L380.8 658.5 L382.3 661.1 L383.8 663.7 L385.3 666.3 L386.8 668.9 L388.3 671.5 L389.8 674.1 L391.3 676.6 L392.8 679.2 L394.3 681.8 L395.8 684.4 L397.3 687.0 L398.8 689.6 L400.3 692.2 L401.8 694.8 L403.3 697.4 L404.8 699.9 L406.3 702.5 L407.8 705.1 L409.3 707.7 L410.8 710.3 L412.2 712.9 L413.7 715.5 L415.2 718.1 L416.7 720.7 L418.2 723.3 L419.6 725.9 L421.1 728.5 L422.6 731.1 L424.0 733.7 L425.5 736.3 L427.0 738.9 L428.4 741.5 L429.9 744.2 L431.3 746.8 L432.8 749.4 L434.2 752.0 L435.6 754.6 L437.1 757.2 L438.5 759.9 L440.0 762.5 L441.4 765.1 L442.8 767.7 L444.3 770.3 L445.7 773.0 L447.2 775.6 L448.6 778.2 L450.0 780.8 L451.5 783.5 L452.9 786.1 L454.3 788.7 L455.8 791.3 L457.2 794.0 L458.6 796.6 L460.1 799.2 L461.5 801.8 L463.0 804.4 L464.4 807.1 L465.9 809.7 L467.3 812.3 L468.8 814.9 L470.2 817.5 L471.7 820.1 L473.1 822.8 L474.6 825.4 L476.1 828.0 L477.5 830.6 L479.0 833.2 L480.5 835.8 L481.9 838.4 L483.4 841.0 L484.9 843.6 L486.4 846.2 L487.9 848.8 L489.4 851.4 L490.9 854.0 L492.4 856.6 L493.9 859.2 L495.4 861.8 L496.9 864.4 L498.4 867.0 L499.9 869.6 L501.5 872.2 L503.0 874.8 L504.5 877.3 L506.0 879.9 L507.6 882.5 L509.1 885.1 L510.6 887.7 L512.2 890.2 L513.7 892.8 L515.2 895.4 L516.8 898.0 L518.3 900.6 L519.9 903.1 L521.4 905.7 L523.0 908.3 L524.5 910.8 L526.1 913.4 L527.6 916.0 L529.2 918.6 L530.7 921.1 L532.3 923.7 L533.8 926.3 L535.4 928.8 L536.9 931.4 L538.5 933.9 L540.0 936.5 L541.6 939.1 L543.2 941.6 L544.7 944.2 L546.3 946.8 L547.8 949.3 L549.4 951.9 L550.9 954.4 L552.5 957.0 L554.1 959.6 L555.6 962.1 L557.2 964.7 L558.7 967.2 L560.3 969.8 L561.8 972.4 L563.4 974.9 L564.9 977.5 L566.5 980.0 L568.1 982.6 L569.6 985.1 L571.2 987.7 L572.7 990.2 L574.3 992.8 L575.9 995.3 L577.4 997.9 L579.0 1000.4 L580.6 1002.9 L582.2 1005.5 L583.8 1008.0 L585.3 1010.5 L586.9 1013.0 L588.6 1015.5 L590.2 1018.1 L591.8 1020.6 L593.4 1023.1 L595.1 1025.6 L596.7 1028.0 L598.4 1030.5 L600.0 1033.0 L601.7 1035.5 L603.4 1037.9 L605.1 1040.4 L606.8 1042.9 L608.5 1045.3 L610.2 1047.7 L612.0 1050.2 L613.7 1052.6 L615.5 1055.0 L617.3 1057.4 L619.1 1059.8 L620.9 1062.2 L622.7 1064.6 L624.6 1066.9 L626.4 1069.3 L628.3 1071.6 L630.2 1074.0 L632.1 1076.3 L634.0 1078.6 L636.0 1080.9 L638.0 1083.2 L639.9 1085.5 L641.9 1087.8 L644.0 1090.0 L646.0 1092.3 L648.1 1094.5 L650.2 1096.7 L652.3 1098.9 L654.4 1101.1 L656.5 1103.2 L658.7 1105.4 L660.9 1107.5 L663.1 1109.6 L665.3 1111.6 L667.6 1113.6 L669.9 1115.6 L672.2 1117.6 L674.5 1119.5 L676.9 1121.3 L679.3 1123.2 L681.7 1124.9 L684.1 1126.7 L686.5 1128.3 L689.0 1130.0 L691.5 1131.6 L694.1 1133.1 L696.6 1134.5 L699.2 1136.0 L701.8 1137.3 L704.4 1138.6 L707.1 1139.8 L709.8 1141.0 L712.5 1142.0 L715.3 1143.1 L718.0 1144.0 L720.8 1144.9 L723.6 1145.8 L726.5 1146.6 L729.3 1147.4 L732.2 1148.1 L735.1 1148.8 L738.0 1149.4 L740.9 1150.0 L743.8 1150.6 L746.7 1151.1 L749.7 1151.6 L752.7 1152.1 L755.6 1152.5 L758.6 1152.9 L761.6 1153.3 L764.6 1153.6 L767.6 1153.9 L770.6 1154.1 L773.6 1154.4 L776.7 1154.6 L779.7 1154.7 L782.7 1154.9 L785.7 1154.9 L788.8 1155.0 L791.8 1155.0 L794.8 1155.0 L797.9 1155.0 L800.9 1154.9 L804.0 1154.8 L807.0 1154.7 L810.0 1154.5 L813.0 1154.3 L816.1 1154.1 L819.1 1153.9 L822.1 1153.6 L825.1 1153.3 L828.1 1152.9 L831.1 1152.5 L834.1 1152.1 L837.0 1151.7 L840.0 1151.2 L842.9 1150.7 L845.9 1150.2 L848.8 1149.6 L851.7 1149.0 L854.6 1148.4 L857.5 1147.7 L860.4 1146.9 L863.2 1146.2 L866.1 1145.4 L868.9 1144.5 L871.7 1143.6 L874.5 1142.6 L877.2 1141.6 L880.0 1140.5 L882.7 1139.4 L885.4 1138.2 L888.1 1137.0 L890.7 1135.7 L893.4 1134.3 L896.0 1132.9 L898.5 1131.4 L901.1 1129.8 L903.6 1128.2 L906.1 1126.5 L908.6 1124.7 L911.1 1122.9 L913.5 1121.0 L916.0 1119.2 L918.4 1117.4 L920.9 1115.7 L923.5 1114.1 L926.0 1112.5 L928.6 1111.1 L931.3 1109.9 L934.0 1108.7 L936.7 1107.7 L939.5 1106.8 L942.3 1106.0 L945.1 1105.3 L948.0 1104.7 L951.0 1104.3 L953.9 1103.9 L956.9 1103.5 L959.9 1103.2 L962.9 1103.0 L965.9 1102.8 L968.9 1102.6 L972.0 1102.4 L975.0 1102.3 L978.1 1102.1 L981.1 1101.9 L984.1 1101.6 L987.1 1101.3 L990.1 1100.9 L993.1 1100.5 L996.0 1099.9 L998.9 1099.3 L1001.8 1098.6 L1004.7 1097.9 L1007.5 1097.1 L1010.3 1096.2 L1013.2 1095.4 L1016.0 1094.5 L1018.8 1093.6 L1021.7 1092.7 L1024.5 1091.8 L1027.4 1090.9 L1030.2 1090.1 L1033.1 1089.3 L1036.0 1088.6 L1038.9 1087.9 L1041.9 1087.3 L1044.8 1086.7 L1047.8 1086.1 L1050.7 1085.6 L1053.7 1085.1 L1056.7 1084.6 L1059.7 1084.2 L1062.7 1083.9 L1065.7 1083.5 L1068.7 1083.3 L1071.7 1083.0 L1074.7 1082.8 L1077.8 1082.6 L1080.8 1082.5 L1083.8 1082.4 L1086.9 1082.3 L1089.9 1082.3 L1092.9 1082.3 L1096.0 1082.4 L1099.0 1082.5 L1102.0 1082.6 L1105.0 1082.7 L1108.1 1082.9 L1111.1 1083.1 L1114.1 1083.4 L1117.1 1083.7 L1120.0 1084.0 L1123.0 1084.3 L1126.0 1084.7 L1129.0 1085.1 L1131.9 1085.6 L1134.9 1086.1 L1137.8 1086.6 L1140.7 1087.1 L1143.6 1087.7 L1146.5 1088.3 L1149.4 1088.9 L1152.3 1089.6 L1155.2 1090.3 L1158.1 1091.0 L1161.0 1091.7 L1163.8 1092.5 L1166.7 1093.3 L1169.5 1094.1 L1172.4 1095.0 L1175.2 1095.8 L1178.0 1096.7 L1180.8 1097.7 L1183.6 1098.6 L1186.4 1099.6 L1189.2 1100.6 L1192.0 1101.6 L1194.7 1102.7 L1197.5 1103.8 L1200.3 1104.9 L1203.0 1106.0 L1205.7 1107.1 L1208.5 1108.3 L1211.2 1109.5 L1213.9 1110.7 L1216.6 1112.0 L1219.3 1113.2 L1222.0 1114.5 L1224.7 1115.8 L1227.4 1117.1 L1230.0 1118.4 L1232.7 1119.8 L1235.4 1121.2 L1238.0 1122.6 L1240.7 1124.0 L1243.3 1125.4 L1245.9 1126.9 L1248.5 1128.3 L1251.1 1129.8 L1253.8 1131.3 L1256.3 1132.8 L1258.9 1134.3 L1261.5 1135.9 L1264.1 1137.5 L1266.7 1139.0 L1269.2 1140.6 L1271.8 1142.2 L1274.3 1143.9 L1276.9 1145.5 L1279.4 1147.1 L1281.9 1148.8 L1284.5 1150.5 L1287.0 1152.2 L1289.5 1153.9 L1292.0 1155.6 L1294.5 1157.3 L1297.0 1159.0 L1299.4 1160.8 L1301.9 1162.5 L1304.4 1164.3 L1306.9 1166.0 L1309.3 1167.8 L1311.8 1169.6 L1314.2 1171.4 L1316.6 1173.2 L1319.1 1175.0 L1321.5 1176.9 L1323.9 1178.7 L1326.3 1180.5 L1328.7 1182.4 L1331.1 1184.2 L1333.5 1186.1 L1335.9 1188.0 L1338.3 1189.8 L1340.7 1191.7 L1343.0 1193.6 L1345.4 1195.5 L1347.8 1197.3 L1350.1 1199.2 L1352.5 1201.1 L1354.8 1203.0 L1357.1 1204.9 L1359.5 1206.8 L1361.8 1208.7 L1364.1 1210.6 L1366.4 1212.5 L1368.7 1214.5 L1371.0 1216.4 L1373.3 1218.3 L1375.6 1220.2 L1377.9 1222.1 L1380.2 1224.0 L1382.4 1225.9 L1384.7 1227.8 L1387.0 1229.7 L1389.3 1231.6 L1391.5 1233.5 L1393.8 1235.4 L1396.1 1237.3 L1398.4 1239.1 L1400.7 1241.0 L1403.0 1242.9 L1405.2 1244.7 L1407.6 1246.6 L1409.9 1248.4 L1412.2 1250.2 L1414.5 1252.1 L1416.8 1253.9 L1419.2 1255.7 L1421.6 1257.5 L1423.9 1259.2 L1426.3 1261.0 L1428.7 1262.7 L1431.1 1264.5 L1433.6 1266.2 L1436.0 1267.9 L1438.5 1269.6 L1441.0 1271.2 L1443.5 1272.9 L1446.0 1274.5 L1448.5 1276.2 L1451.1 1277.8 L1453.7 1279.4 L1456.2 1280.9 L1458.8 1282.5 L1461.4 1284.0 L1464.0 1285.6 L1466.7 1287.1 L1469.3 1288.6 L1471.9 1290.1 L1474.6 1291.6 L1477.2 1293.0 L1479.9 1294.5 L1482.6 1295.9 L1485.2 1297.3 L1487.9 1298.7 L1490.6 1300.1 L1493.2 1301.5 L1495.9 1302.9 L1498.6 1304.2 L1501.3 1305.6 L1504.0 1306.9 L1506.6 1308.2 L1509.3 1309.5 L1512.0 1310.8 L1514.7 1312.1 L1517.3 1313.4 L1520.0 1314.7 L1522.7 1316.0 L1525.3 1317.3 L1528.0 1318.6 L1530.7 1319.9 L1533.3 1321.2 L1536.0 1322.5 L1538.6 1323.9 L1541.3 1325.2 L1543.9 1326.5 L1546.6 1327.9 L1549.2 1329.2 L1551.9 1330.6 L1554.5 1332.0 L1557.1 1333.4 L1559.7 1334.8 L1562.3 1336.3 L1565.0 1337.7 L1567.6 1339.2 L1570.2 1340.7 L1572.8 1342.2 L1575.3 1343.8 L1577.9 1345.4 L1580.5 1347.0 L1583.1 1348.6 L1585.6 1350.3 L1588.2 1351.9 L1590.7 1353.6 L1593.3 1355.3 L1595.9 1357.0 L1598.4 1358.7 L1601.0 1360.4 L1603.5 1362.0 L1606.1 1363.7 L1608.7 1365.3 L1611.3 1366.9 L1613.9 1368.4 L1616.5 1370.0 L1619.1 1371.4 L1621.7 1372.9 L1624.4 1374.2 L1627.1 1375.5 L1629.7 1376.8 L1632.5 1378.0 L1635.2 1379.1 L1637.9 1380.1 L1640.7 1381.0 L1643.5 1381.9 L1646.3 1382.6 L1649.2 1383.3 L1652.0 1383.9 L1654.9 1384.5 L1657.8 1384.9 L1660.7 1385.4 L1663.7 1385.7 L1666.6 1386.0 L1669.6 1386.3 L1672.5 1386.5 L1675.5 1386.7 L1678.5 1386.9 L1681.5 1387.1 L1684.5 1387.2 L1687.5 1387.3 L1690.5 1387.5 L1693.5 1387.6 L1696.5 1387.7 L1699.5 1387.8 L1702.5 1388.0 L1705.4 1388.1 L1708.4 1388.3 L1711.4 1388.6 L1714.3 1388.8 L1717.3 1389.1 L1720.2 1389.5 L1723.1 1389.9 L1726.0 1390.4 L1728.9 1391.0 L1731.8 1391.8 L1734.6 1392.6 L1737.4 1393.5 L1740.2 1394.4 L1743.0 1395.5 L1745.8 1396.6 L1748.5 1397.9 L1751.2 1399.1 L1753.9 1400.5 L1756.6 1401.9 L1759.2 1403.4 L1761.8 1404.9 L1764.4 1406.5 L1767.0 1408.1 L1769.6 1409.7 L1772.1 1411.4 L1774.6 1413.2 L1777.1 1414.9 L1779.5 1416.7 L1782.0 1418.5 L1784.4 1420.4 L1786.8 1422.2 L1789.1 1424.0 L1791.5 1425.9 L1793.8 1427.8 L1796.2 1429.7 L1798.5 1431.6 L1800.8 1433.4 L1803.1 1435.3 L1805.4 1437.2 L1807.7 1439.1 L1810.0 1441.0 L1812.4 1442.8 L1814.7 1444.7 L1817.0 1446.5 L1819.4 1448.4 L1821.7 1450.2 L1824.1 1452.0 L1826.5 1453.7 L1828.9 1455.5 L1831.4 1457.2 L1833.8 1458.9 L1836.3 1460.5 L1838.9 1462.1 L1841.4 1463.7 L1844.0 1465.3 L1846.6 1466.8 L1849.2 1468.3 L1851.9 1469.7 L1854.6 1471.1 L1857.2 1472.4 L1860.0 1473.7 L1862.7 1474.9 L1865.5 1476.1 L1868.2 1477.2 L1871.0 1478.3 L1873.8 1479.3 L1876.7 1480.2 L1879.5 1481.1 L1882.3 1481.9 L1885.2 1482.7 L1888.1 1483.5 L1891.0 1484.1 L1893.9 1484.8 L1896.8 1485.4 L1899.7 1485.9 L1902.7 1486.5 L1905.6 1486.9 L1908.6 1487.4 L1911.6 1487.8 L1914.5 1488.1 L1917.5 1488.5 L1920.5 1488.8 L1923.5 1489.1 L1926.5 1489.3 L1929.5 1489.5 L1932.5 1489.7 L1935.5 1489.9 L1938.6 1490.1 L1941.6 1490.2 L1944.6 1490.3 L1947.6 1490.5 L1950.6 1490.6 L1953.7 1490.6 L1956.7 1490.7 L1959.7 1490.8 L1962.7 1490.9 L1965.7 1490.9 L1968.7 1491.0 L1971.8 1491.0 L1974.8 1491.1 L1977.8 1491.1 L1980.8 1491.1 L1983.8 1491.2 L1986.8 1491.2 L1989.8 1491.2 L1992.8 1491.2 L1995.8 1491.2 L1998.8 1491.3 L2001.8 1491.3 L2004.8 1491.3 L2007.7 1491.3 L2010.7 1491.3 L2013.7 1491.3 L2016.7 1491.3 L2019.7 1491.3 L2022.7 1491.4 L2025.7 1491.4 L2028.7 1491.4 L2031.7 1491.4 L2034.7 1491.4 L2037.7 1491.4 L2040.6 1491.4 L2043.6 1491.5 L2046.6 1491.5 L2049.6 1491.5 L2052.6 1491.5 L2055.6 1491.6 L2058.6 1491.6 L2061.6 1491.6 L2064.6 1491.7 L2067.6 1491.7 L2070.5 1491.8 L2073.5 1491.8 L2076.5 1491.8 L2079.5 1491.9 L2082.5 1491.9 L2085.5 1492.0 L2088.5 1492.0 L2091.5 1492.1 L2094.5 1492.2 L2097.5 1492.2 L2100.5 1492.3 L2103.5 1492.3 L2106.5 1492.4 L2109.5 1492.5 L2112.5 1492.5 L2115.4 1492.6 L2118.4 1492.7 L2121.4 1492.7 L2124.4 1492.8 L2127.4 1492.9 L2130.4 1493.0 L2133.4 1493.0 L2136.4 1493.1 L2139.4 1493.2 L2142.4 1493.3 L2145.4 1493.3 L2148.4 1493.4 L2151.4 1493.5 L2154.4 1493.6 L2157.4 1493.7 L2160.4 1493.8 L2163.4 1493.8 L2166.4 1493.9 L2169.4 1494.0 L2172.4 1494.1 L2175.4 1494.2 L2178.4 1494.3 L2181.4 1494.4 L2184.4 1494.5 L2187.3 1494.5 L2190.3 1494.6 L2193.3 1494.7 L2196.3 1494.8 L2199.3 1494.9 L2202.3 1495.0 L2205.3 1495.1 L2208.3 1495.2 L2211.3 1495.3 L2214.3 1495.4 L2217.3 1495.5 L2220.3 1495.6 L2223.3 1495.7 L2226.3 1495.7 L2229.3 1495.8 L2232.3 1495.9 L2235.3 1496.0 L2238.3 1496.1 L2241.3 1496.2 L2244.3 1496.3 L2247.3 1496.4 L2250.3 1496.5 L2253.3 1496.6 L2256.3 1496.7 L2259.3 1496.8 L2262.3 1496.8 L2265.3 1496.9 L2268.3 1497.0 L2271.3 1497.1 L2274.3 1497.2 L2277.3 1497.3 L2280.3 1497.4 L2283.3 1497.5 L2286.2 1497.5 L2289.2 1497.6 L2292.2 1497.7 L2295.2 1497.8 L2298.2 1497.9 L2301.2 1497.9 L2304.2 1498.0 L2307.2 1498.1 L2310.2 1498.2 L2313.2 1498.2 L2316.2 1498.3 L2319.2 1498.4 L2322.2 1498.5 L2325.2 1498.5 L2328.2 1498.6 L2331.2 1498.7 L2334.2 1498.7 L2337.2 1498.8 L2340.2 1498.9 L2343.2 1498.9 L2346.2 1499.0 L2349.1 1499.0 L2352.1 1499.1 L2355.1 1499.1 L2358.1 1499.2 L2361.1 1499.2 L2364.1 1499.3 L2367.1 1499.3 L2370.1 1499.4 L2373.1 1499.4 L2376.1 1499.5 L2379.1 1499.5 L2382.1 1499.5 L2385.1 1499.6 L2388.1 1499.6 L2391.0 1499.6 L2394.0 1499.7 L2397.0 1499.7 L2400.0 1499.7 L2403.0 1499.7 L2406.0 1499.7 L2409.0 1499.8 L2412.0 1499.8 L2415.0 1499.8" fill="none" stroke="#00f" stroke-width="11.0" stroke-linejoin="round" stroke-linecap="round" shape-rendering="crispEdges"/>
<path d="M342.9 566.1 L343.9 568.8 L345.0 571.6 L346.1 574.4 L347.2 577.2 L348.3 580.0 L349.5 582.7 L350.6 585.5 L351.8 588.2 L353.0 590.9 L354.2 593.7 L355.5 596.4 L356.7 599.1 L358.0 601.8 L359.2 604.5 L360.5 607.2 L361.8 609.9 L363.2 612.6 L364.5 615.3 L365.8 618.0 L367.2 620.6 L368.6 623.3 L369.9 625.9 L371.3 628.6 L372.8 631.2 L374.2 633.9 L375.6 636.5 L377.0 639.2 L378.5 641.8 L379.9 644.4 L381.4 647.0 L382.9 649.6 L384.4 652.3 L385.9 654.9 L387.3 657.5 L388.9 660.1 L390.4 662.7 L391.9 665.3 L393.4 667.8 L394.9 670.4 L396.5 673.0 L398.0 675.6 L399.5 678.2 L401.1 680.8 L402.6 683.3 L404.2 685.9 L405.7 688.5 L407.3 691.0 L408.9 693.6 L410.4 696.2 L412.0 698.7 L413.5 701.3 L415.1 703.9 L416.7 706.4 L418.2 709.0 L419.8 711.5 L421.4 714.1 L422.9 716.6 L424.5 719.2 L426.0 721.8 L427.6 724.3 L429.2 726.9 L430.7 729.4 L432.3 732.0 L433.8 734.5 L435.4 737.1 L436.9 739.6 L438.5 742.2 L440.0 744.8 L441.6 747.3 L443.1 749.9 L444.7 752.4 L446.2 755.0 L447.8 757.6 L449.3 760.1 L450.8 762.7 L452.3 765.3 L453.9 767.8 L455.4 770.4 L456.9 773.0 L458.4 775.6 L459.9 778.1 L461.4 780.7 L462.9 783.3 L464.4 785.9 L465.9 788.5 L467.4 791.1 L468.9 793.7 L470.3 796.3 L471.8 798.9 L473.3 801.5 L474.7 804.1 L476.2 806.8 L477.6 809.4 L479.1 812.0 L480.5 814.7 L481.9 817.3 L483.3 819.9 L484.7 822.6 L486.1 825.2 L487.5 827.9 L488.9 830.5 L490.3 833.2 L491.7 835.9 L493.1 838.5 L494.5 841.2 L495.9 843.9 L497.2 846.5 L498.6 849.2 L500.0 851.9 L501.3 854.6 L502.7 857.2 L504.1 859.9 L505.4 862.6 L506.8 865.3 L508.2 868.0 L509.5 870.6 L510.9 873.3 L512.2 876.0 L513.6 878.7 L515.0 881.4 L516.3 884.0 L517.7 886.7 L519.1 889.4 L520.5 892.0 L521.9 894.7 L523.2 897.4 L524.6 900.0 L526.0 902.7 L527.4 905.4 L528.8 908.0 L530.2 910.7 L531.6 913.3 L533.1 916.0 L534.5 918.6 L535.9 921.2 L537.4 923.9 L538.8 926.5 L540.3 929.1 L541.7 931.7 L543.2 934.3 L544.7 936.9 L546.2 939.5 L547.7 942.1 L549.2 944.7 L550.7 947.3 L552.2 949.8 L553.8 952.4 L555.3 954.9 L556.9 957.5 L558.4 960.0 L560.0 962.6 L561.6 965.1 L563.2 967.6 L564.8 970.2 L566.4 972.7 L568.0 975.2 L569.6 977.7 L571.3 980.2 L572.9 982.7 L574.6 985.2 L576.2 987.7 L577.9 990.1 L579.5 992.6 L581.2 995.1 L582.9 997.6 L584.6 1000.0 L586.3 1002.5 L588.0 1005.0 L589.7 1007.4 L591.4 1009.9 L593.1 1012.3 L594.8 1014.8 L596.5 1017.2 L598.3 1019.7 L600.0 1022.1 L601.7 1024.6 L603.5 1027.0 L605.2 1029.5 L607.0 1031.9 L608.7 1034.3 L610.5 1036.8 L612.2 1039.2 L614.0 1041.6 L615.7 1044.1 L617.5 1046.5 L619.3 1048.9 L621.0 1051.4 L622.8 1053.8 L624.6 1056.2 L626.4 1058.7 L628.1 1061.1 L629.9 1063.5 L631.7 1066.0 L633.5 1068.4 L635.3 1070.8 L637.0 1073.3 L638.8 1075.7 L640.6 1078.2 L642.4 1080.6 L644.2 1083.0 L646.0 1085.4 L647.8 1087.8 L649.7 1090.2 L651.5 1092.6 L653.4 1095.0 L655.2 1097.4 L657.1 1099.7 L659.0 1102.0 L661.0 1104.3 L662.9 1106.6 L664.9 1108.9 L666.8 1111.2 L668.8 1113.4 L670.9 1115.6 L672.9 1117.8 L675.0 1120.0 L677.1 1122.1 L679.2 1124.2 L681.4 1126.3 L683.6 1128.4 L685.8 1130.4 L688.0 1132.3 L690.3 1134.3 L692.6 1136.2 L694.9 1138.0 L697.3 1139.8 L699.7 1141.6 L702.1 1143.3 L704.5 1144.9 L707.0 1146.5 L709.5 1148.0 L712.0 1149.5 L714.6 1150.9 L717.2 1152.3 L719.8 1153.6 L722.5 1154.8 L725.2 1156.0 L727.9 1157.1 L730.6 1158.1 L733.4 1159.0 L736.2 1159.9 L739.1 1160.7 L741.9 1161.4 L744.8 1162.0 L747.8 1162.6 L750.7 1163.1 L753.7 1163.5 L756.7 1163.9 L759.7 1164.1 L762.7 1164.4 L765.8 1164.6 L768.8 1164.7 L771.9 1164.8 L774.9 1164.8 L778.0 1164.8 L781.0 1164.7 L784.1 1164.6 L787.1 1164.4 L790.1 1164.2 L793.2 1164.0 L796.2 1163.7 L799.2 1163.4 L802.3 1163.0 L805.3 1162.6 L808.3 1162.1 L811.3 1161.6 L814.2 1161.0 L817.2 1160.4 L820.2 1159.7 L823.1 1159.0 L826.1 1158.3 L829.0 1157.5 L831.9 1156.7 L834.8 1155.8 L837.6 1154.9 L840.5 1153.9 L843.3 1152.9 L846.1 1151.9 L848.9 1150.8 L851.7 1149.7 L854.4 1148.5 L857.1 1147.3 L859.8 1146.0 L862.5 1144.7 L865.2 1143.4 L867.8 1142.0 L870.5 1140.7 L873.1 1139.2 L875.7 1137.8 L878.3 1136.3 L880.8 1134.8 L883.4 1133.3 L886.0 1131.8 L888.5 1130.2 L891.1 1128.7 L893.6 1127.1 L896.2 1125.5 L898.7 1123.9 L901.2 1122.3 L903.8 1120.7 L906.3 1119.1 L908.9 1117.5 L911.4 1115.9 L913.9 1114.3 L916.5 1112.7 L919.1 1111.2 L921.6 1109.6 L924.2 1108.0 L926.8 1106.5 L929.3 1105.0 L931.9 1103.5 L934.5 1102.0 L937.1 1100.6 L939.8 1099.2 L942.4 1097.8 L945.0 1096.4 L947.7 1095.1 L950.4 1093.8 L953.1 1092.5 L955.8 1091.3 L958.5 1090.1 L961.2 1088.9 L963.9 1087.7 L966.6 1086.5 L969.4 1085.3 L972.1 1084.2 L974.9 1083.0 L977.7 1081.9 L980.4 1080.8 L983.2 1079.7 L986.0 1078.5 L988.8 1077.4 L991.6 1076.3 L994.4 1075.2 L997.2 1074.1 L1000.0 1072.9 L1002.8 1071.8 L1005.6 1070.7 L1008.4 1069.6 L1011.2 1068.4 L1014.1 1067.3 L1016.9 1066.2 L1019.7 1065.2 L1022.6 1064.1 L1025.4 1063.0 L1028.3 1062.0 L1031.1 1060.9 L1034.0 1059.9 L1036.8 1059.0 L1039.7 1058.0 L1042.6 1057.1 L1045.5 1056.2 L1048.3 1055.3 L1051.2 1054.4 L1054.1 1053.6 L1057.0 1052.9 L1059.9 1052.1 L1062.8 1051.4 L1065.7 1050.8 L1068.7 1050.2 L1071.6 1049.6 L1074.5 1049.1 L1077.4 1048.6 L1080.4 1048.2 L1083.3 1047.8 L1086.3 1047.5 L1089.2 1047.2 L1092.2 1047.0 L1095.2 1046.8 L1098.1 1046.7 L1101.1 1046.7 L1104.1 1046.7 L1107.1 1046.7 L1110.0 1046.8 L1113.0 1046.9 L1116.0 1047.1 L1119.0 1047.3 L1121.9 1047.6 L1124.9 1047.9 L1127.9 1048.3 L1130.8 1048.7 L1133.8 1049.2 L1136.8 1049.7 L1139.7 1050.2 L1142.7 1050.8 L1145.6 1051.4 L1148.5 1052.1 L1151.5 1052.8 L1154.4 1053.5 L1157.3 1054.3 L1160.2 1055.1 L1163.1 1056.0 L1166.0 1056.8 L1168.8 1057.8 L1171.7 1058.7 L1174.5 1059.7 L1177.4 1060.7 L1180.2 1061.8 L1183.0 1062.9 L1185.8 1064.0 L1188.5 1065.2 L1191.3 1066.4 L1194.0 1067.6 L1196.8 1068.8 L1199.5 1070.1 L1202.2 1071.4 L1204.8 1072.8 L1207.5 1074.1 L1210.2 1075.5 L1212.8 1076.9 L1215.4 1078.4 L1218.1 1079.8 L1220.7 1081.3 L1223.2 1082.8 L1225.8 1084.3 L1228.4 1085.9 L1230.9 1087.5 L1233.5 1089.0 L1236.0 1090.6 L1238.5 1092.3 L1241.0 1093.9 L1243.5 1095.6 L1246.0 1097.3 L1248.5 1099.0 L1251.0 1100.7 L1253.4 1102.4 L1255.9 1104.1 L1258.3 1105.9 L1260.7 1107.6 L1263.2 1109.4 L1265.6 1111.2 L1268.0 1113.0 L1270.4 1114.8 L1272.8 1116.6 L1275.2 1118.4 L1277.5 1120.2 L1279.9 1122.1 L1282.3 1123.9 L1284.6 1125.8 L1287.0 1127.6 L1289.4 1129.5 L1291.7 1131.3 L1294.0 1133.2 L1296.4 1135.1 L1298.7 1137.0 L1301.0 1138.9 L1303.3 1140.8 L1305.6 1142.7 L1308.0 1144.6 L1310.3 1146.5 L1312.6 1148.4 L1314.9 1150.3 L1317.1 1152.3 L1319.4 1154.2 L1321.7 1156.1 L1324.0 1158.1 L1326.3 1160.0 L1328.6 1161.9 L1330.8 1163.9 L1333.1 1165.8 L1335.4 1167.8 L1337.6 1169.8 L1339.9 1171.7 L1342.2 1173.7 L1344.4 1175.6 L1346.7 1177.6 L1348.9 1179.6 L1351.2 1181.5 L1353.4 1183.5 L1355.7 1185.5 L1357.9 1187.5 L1360.2 1189.4 L1362.4 1191.4 L1364.7 1193.4 L1366.9 1195.4 L1369.2 1197.4 L1371.4 1199.3 L1373.7 1201.3 L1375.9 1203.3 L1378.2 1205.3 L1380.4 1207.3 L1382.7 1209.2 L1384.9 1211.2 L1387.2 1213.2 L1389.5 1215.2 L1391.7 1217.1 L1394.0 1219.1 L1396.2 1221.1 L1398.5 1223.0 L1400.8 1225.0 L1403.0 1227.0 L1405.3 1228.9 L1407.6 1230.9 L1409.9 1232.9 L1412.1 1234.8 L1414.4 1236.8 L1416.7 1238.7 L1419.0 1240.7 L1421.3 1242.6 L1423.6 1244.5 L1425.9 1246.5 L1428.2 1248.4 L1430.5 1250.3 L1432.8 1252.2 L1435.2 1254.1 L1437.5 1256.0 L1439.8 1257.9 L1442.2 1259.8 L1444.5 1261.6 L1446.9 1263.5 L1449.3 1265.3 L1451.6 1267.2 L1454.0 1269.0 L1456.4 1270.8 L1458.8 1272.5 L1461.2 1274.3 L1463.7 1276.1 L1466.1 1277.8 L1468.5 1279.5 L1471.0 1281.2 L1473.5 1282.9 L1475.9 1284.5 L1478.4 1286.2 L1480.9 1287.8 L1483.5 1289.4 L1486.0 1291.0 L1488.5 1292.5 L1491.1 1294.0 L1493.7 1295.5 L1496.3 1297.0 L1498.9 1298.4 L1501.5 1299.9 L1504.1 1301.3 L1506.7 1302.6 L1509.4 1304.0 L1512.0 1305.4 L1514.7 1306.7 L1517.4 1308.1 L1520.0 1309.4 L1522.7 1310.7 L1525.4 1312.1 L1528.1 1313.4 L1530.7 1314.8 L1533.4 1316.1 L1536.1 1317.5 L1538.7 1318.9 L1541.4 1320.3 L1544.0 1321.8 L1546.7 1323.2 L1549.3 1324.7 L1551.9 1326.2 L1554.5 1327.8 L1557.1 1329.4 L1559.6 1331.0 L1562.2 1332.7 L1564.7 1334.3 L1567.3 1336.1 L1569.8 1337.8 L1572.3 1339.5 L1574.8 1341.3 L1577.3 1343.1 L1579.8 1344.9 L1582.3 1346.7 L1584.7 1348.5 L1587.2 1350.2 L1589.7 1352.0 L1592.2 1353.8 L1594.7 1355.5 L1597.2 1357.3 L1599.7 1359.0 L1602.2 1360.6 L1604.8 1362.3 L1607.3 1363.9 L1609.9 1365.4 L1612.4 1367.0 L1615.0 1368.4 L1617.6 1369.9 L1620.2 1371.2 L1622.9 1372.5 L1625.5 1373.8 L1628.2 1374.9 L1630.9 1376.1 L1633.6 1377.1 L1636.4 1378.0 L1639.2 1378.9 L1642.0 1379.7 L1644.9 1380.4 L1647.7 1381.0 L1650.6 1381.6 L1653.6 1382.1 L1656.5 1382.5 L1659.5 1382.9 L1662.4 1383.2 L1665.4 1383.5 L1668.4 1383.7 L1671.5 1383.9 L1674.5 1384.1 L1677.5 1384.3 L1680.5 1384.5 L1683.6 1384.6 L1686.6 1384.8 L1689.6 1385.0 L1692.7 1385.1 L1695.7 1385.3 L1698.7 1385.6 L1701.7 1385.8 L1704.7 1386.1 L1707.6 1386.4 L1710.6 1386.8 L1713.5 1387.3 L1716.4 1387.8 L1719.3 1388.3 L1722.1 1389.0 L1725.0 1389.7 L1727.7 1390.5 L1730.5 1391.4 L1733.2 1392.4 L1735.9 1393.4 L1738.5 1394.6 L1741.1 1395.8 L1743.7 1397.1 L1746.2 1398.4 L1748.7 1399.9 L1751.2 1401.4 L1753.7 1402.9 L1756.1 1404.5 L1758.5 1406.2 L1760.9 1407.9 L1763.3 1409.7 L1765.6 1411.5 L1768.0 1413.4 L1770.3 1415.2 L1772.6 1417.2 L1774.9 1419.1 L1777.2 1421.1 L1779.5 1423.1 L1781.8 1425.1 L1784.0 1427.2 L1786.3 1429.2 L1788.6 1431.3 L1790.8 1433.4 L1793.1 1435.5 L1795.3 1437.5 L1797.6 1439.6 L1799.9 1441.7 L1802.2 1443.8 L1804.4 1445.8 L1806.7 1447.9 L1809.0 1449.9 L1811.3 1451.9 L1813.7 1453.8 L1816.0 1455.8 L1818.4 1457.7 L1820.7 1459.6 L1823.1 1461.4 L1825.6 1463.2 L1828.0 1465.0 L1830.4 1466.7 L1832.9 1468.4 L1835.4 1470.0 L1837.9 1471.6 L1840.4 1473.1 L1843.0 1474.6 L1845.5 1476.1 L1848.1 1477.5 L1850.8 1478.8 L1853.4 1480.0 L1856.1 1481.3 L1858.8 1482.4 L1861.5 1483.5 L1864.2 1484.5 L1867.0 1485.5 L1869.8 1486.4 L1872.6 1487.2 L1875.4 1487.9 L1878.3 1488.6 L1881.2 1489.3 L1884.1 1489.8 L1887.0 1490.4 L1889.9 1490.8 L1892.9 1491.3 L1895.9 1491.7 L1898.8 1492.1 L1901.8 1492.4 L1904.8 1492.7 L1907.8 1493.0 L1910.9 1493.2 L1913.9 1493.5 L1916.9 1493.7 L1919.9 1493.9 L1923.0 1494.1 L1926.0 1494.4 L1929.0 1494.6 L1932.0 1494.8 L1935.0 1495.0 L1938.1 1495.2 L1941.1 1495.4 L1944.1 1495.5 L1947.1 1495.7 L1950.1 1495.9 L1953.2 1496.1 L1956.2 1496.3 L1959.2 1496.4 L1962.2 1496.6 L1965.2 1496.8 L1968.2 1496.9 L1971.2 1497.1 L1974.3 1497.2 L1977.3 1497.4 L1980.3 1497.5 L1983.3 1497.7 L1986.3 1497.8 L1989.3 1498.0 L1992.3 1498.1 L1995.3 1498.2 L1998.3 1498.3 L2001.3 1498.5 L2004.3 1498.6 L2007.3 1498.7 L2010.3 1498.8 L2013.4 1499.0 L2016.4 1499.1 L2019.4 1499.2 L2022.4 1499.3 L2025.4 1499.4 L2028.4 1499.5 L2031.4 1499.6 L2034.4 1499.7 L2037.4 1499.8 L2040.4 1499.9 L2043.4 1500.0 L2046.4 1500.0 L2049.4 1500.1 L2052.3 1500.2 L2055.3 1500.3 L2058.3 1500.4 L2061.3 1500.4 L2064.3 1500.5 L2067.3 1500.6 L2070.3 1500.7 L2073.3 1500.7 L2076.3 1500.8 L2079.3 1500.9 L2082.3 1500.9 L2085.3 1501.0 L2088.3 1501.0 L2091.3 1501.1 L2094.3 1501.1 L2097.3 1501.2 L2100.2 1501.2 L2103.2 1501.3 L2106.2 1501.3 L2109.2 1501.4 L2112.2 1501.4 L2115.2 1501.5 L2118.2 1501.5 L2121.2 1501.5 L2124.2 1501.6 L2127.2 1501.6 L2130.2 1501.7 L2133.1 1501.7 L2136.1 1501.7 L2139.1 1501.8 L2142.1 1501.8 L2145.1 1501.8 L2148.1 1501.8 L2151.1 1501.9 L2154.1 1501.9 L2157.1 1501.9 L2160.0 1501.9 L2163.0 1502.0 L2166.0 1502.0 L2169.0 1502.0 L2172.0 1502.0 L2175.0 1502.0 L2178.0 1502.1 L2181.0 1502.1 L2183.9 1502.1 L2186.9 1502.1 L2189.9 1502.1 L2192.9 1502.1 L2195.9 1502.1 L2198.9 1502.2 L2201.9 1502.2 L2204.9 1502.2 L2207.9 1502.2 L2210.8 1502.2 L2213.8 1502.2 L2216.8 1502.2 L2219.8 1502.2 L2222.8 1502.3 L2225.8 1502.3 L2228.8 1502.3 L2231.8 1502.3 L2234.8 1502.3 L2237.8 1502.3 L2240.8 1502.3 L2243.7 1502.3 L2246.7 1502.3 L2249.7 1502.3 L2252.7 1502.3 L2255.7 1502.4 L2258.7 1502.4 L2261.7 1502.4 L2264.7 1502.4 L2267.7 1502.4 L2270.7 1502.4 L2273.7 1502.4 L2276.7 1502.4 L2279.7 1502.4 L2282.7 1502.5 L2285.7 1502.5 L2288.7 1502.5 L2291.6 1502.5 L2294.6 1502.5 L2297.6 1502.5 L2300.6 1502.5 L2303.6 1502.6 L2306.6 1502.6 L2309.6 1502.6 L2312.6 1502.6 L2315.6 1502.6 L2318.6 1502.6 L2321.6 1502.7 L2324.6 1502.7 L2327.6 1502.7 L2330.7 1502.7 L2333.7 1502.8 L2336.7 1502.8 L2339.7 1502.8 L2342.7 1502.8 L2345.7 1502.9 L2348.7 1502.9 L2351.7 1502.9 L2354.7 1503.0 L2357.7 1503.0 L2360.7 1503.0 L2363.7 1503.1 L2366.7 1503.1 L2369.8 1503.2 L2372.8 1503.2 L2375.8 1503.3 L2378.8 1503.3 L2381.8 1503.3 L2384.8 1503.4 L2387.8 1503.4 L2390.9 1503.5 L2393.9 1503.6 L2396.9 1503.6 L2399.9 1503.7 L2402.9 1503.7 L2406.0 1503.8 L2409.0 1503.9 L2412.0 1503.9 L2415.0 1504.0" fill="none" stroke="#008000" stroke-width="11.0" stroke-linejoin="round" stroke-linecap="round" shape-rendering="crispEdges"/>
<rect x="335.0" y="21.0" width="2087.0" height="10.0" fill="#000" shape-rendering="crispEdges"/>
<rect x="335.0" y="1501.0" width="2087.0" height="9.0" fill="#000" shape-rendering="crispEdges"/>
<rect x="335.0" y="21.0" width="9.0" height="1489.0" fill="#000" shape-rendering="crispEdges"/>
<rect x="2412.0" y="21.0" width="10.0" height="1489.0" fill="#000" shape-rendering="crispEdges"/>
<rect x="346.0" y="160.0" width="39.0" height="13.0" fill="#000" shape-rendering="crispEdges"/>
<rect x="346.0" y="429.0" width="39.0" height="13.0" fill="#000" shape-rendering="crispEdges"/>
<rect x="346.0" y="699.0" width="39.0" height="13.0" fill="#000" shape-rendering="crispEdges"/>
<rect x="346.0" y="969.0" width="39.0" height="12.0" fill="#000" shape-rendering="crispEdges"/>
<rect x="346.0" y="1238.0" width="39.0" height="12.0" fill="#000" shape-rendering="crispEdges"/>
<rect x="333.0" y="298.0" width="27.0" height="12.0" fill="#000" shape-rendering="crispEdges"/>
<rect x="340.0" y="572.0" width="27.0" height="12.0" fill="#000" shape-rendering="crispEdges"/>
<rect x="344.0" y="829.5" width="27.0" height="12.5" fill="#000" shape-rendering="crispEdges"/>
<rect x="344.0" y="1106.0" width="19.0" height="13.0" fill="#000" shape-rendering="crispEdges"/>
<rect x="344.0" y="1372.0" width="19.0" height="12.0" fill="#000" shape-rendering="crispEdges"/>
<rect x="652.0" y="1467.0" width="13.0" height="35.0" fill="#000" shape-rendering="crispEdges"/>
<rect x="974.0" y="1465.0" width="12.0" height="37.0" fill="#000" shape-rendering="crispEdges"/>
<rect x="1291.5" y="1465.0" width="13.0" height="37.0" fill="#000" shape-rendering="crispEdges"/>
<rect x="1614.0" y="1463.5" width="13.0" height="38.5" fill="#000" shape-rendering="crispEdges"/>
<rect x="1934.0" y="1467.0" width="12.0" height="35.0" fill="#000" shape-rendering="crispEdges"/>
<rect x="2255.0" y="1465.0" width="13.0" height="37.0" fill="#000" shape-rendering="crispEdges"/>
<rect x="495.5" y="1481.5" width="12.0" height="20.5" fill="#000" shape-rendering="crispEdges"/>
<rect x="817.5" y="1480.0" width="12.5" height="22.0" fill="#000" shape-rendering="crispEdges"/>
<rect x="1137.0" y="1480.0" width="12.0" height="22.0" fill="#000" shape-rendering="crispEdges"/>
<rect x="1458.0" y="1478.5" width="12.5" height="23.5" fill="#000" shape-rendering="crispEdges"/>
<rect x="1777.0" y="1482.0" width="13.0" height="20.0" fill="#000" shape-rendering="crispEdges"/>
<rect x="2099.0" y="1480.0" width="12.0" height="22.0" fill="#000" shape-rendering="crispEdges"/>
<text x="185.5" y="192.8" font-size="92.0" fill="#000">2.5</text>
<text x="186.2" y="463.0" font-size="92.0" fill="#000">2.0</text>
<text x="187.1" y="731.5" font-size="92.0" fill="#000">1.5</text>
<text x="186.0" y="1005.8" font-size="92.0" fill="#000">1.0</text>
<text x="180.6" y="1275.8" font-size="92.0" fill="#000">0.5</text>
<text x="181.0" y="1533.6" font-size="92.0" fill="#000">0.0</text>
<text x="267.5" y="1614.0" font-size="92.0" fill="#000">220</text>
<text x="580.6" y="1610.2" font-size="92.0" fill="#000">240</text>
<text x="904.7" y="1610.2" font-size="92.0" fill="#000">260</text>
<text x="1222.2" y="1613.5" font-size="92.0" fill="#000">280</text>
<text x="1547.2" y="1608.9" font-size="92.0" fill="#000">300</text>
<text x="1865.2" y="1612.0" font-size="92.0" fill="#000">320</text>
<text x="2188.2" y="1614.0" font-size="92.0" fill="#000">340</text>
<text x="1037.5" y="1724.6" font-size="91.0" fill="#000">Wavelength (nm)</text>
<text x="1374.5" y="181.0" font-size="88.5" font-weight="bold" fill="#000">a.</text>
<line x1="1470.5" y1="163.0" x2="1559.9" y2="163.0" stroke="#000" stroke-width="9.7" stroke-linecap="round" shape-rendering="crispEdges"/>
<text x="1574.2" y="186.0" font-size="80.0" fill="#000">DBF/MMA = 82/18</text>
<text x="1373.6" y="322.8" font-size="88.5" font-weight="bold" fill="#f00">b.</text>
<line x1="1467.6" y1="298.5" x2="1557.4" y2="298.5" stroke="#f00" stroke-width="9.7" stroke-linecap="round" shape-rendering="crispEdges"/>
<text x="1576.1" y="327.7" font-size="80.0" fill="#000">DBF/HEMA = 73/27</text>
<text x="1373.6" y="455.0" font-size="88.5" font-weight="bold" fill="#00f">c.</text>
<line x1="1470.5" y1="432.9" x2="1560.2" y2="432.9" stroke="#00f" stroke-width="9.7" stroke-linecap="round" shape-rendering="crispEdges"/>
<text x="1578.1" y="459.5" font-size="80.0" fill="#000">DBF/MA = 87/13</text>
<text x="1373.5" y="583.9" font-size="88.5" font-weight="bold" fill="#008000">d.</text>
<line x1="1470.5" y1="566.0" x2="1560.2" y2="566.0" stroke="#008000" stroke-width="9.7" stroke-linecap="round" shape-rendering="crispEdges"/>
<text x="1578.1" y="589.1" font-size="80.0" fill="#000">DBF/HEA = 89/11</text>
<text transform="rotate(-90)" fill="#000"><tspan x="-1180.0" y="115.0" font-size="88">ε×10</tspan><tspan x="-992.8" y="79.0" font-size="68">-4</tspan><tspan x="-931.5" y="115.0" font-size="88">(L</tspan><tspan x="-824.3" y="115.0" font-size="88">mol</tspan><tspan x="-680.7" y="79.0" font-size="68">-1</tspan><tspan x="-619.4" y="115.0" font-size="88">cm</tspan><tspan x="-499.7" y="79.0" font-size="68">-1</tspan><tspan x="-433.3" y="115.0" font-size="88">)</tspan></text>
</svg></body></html>
